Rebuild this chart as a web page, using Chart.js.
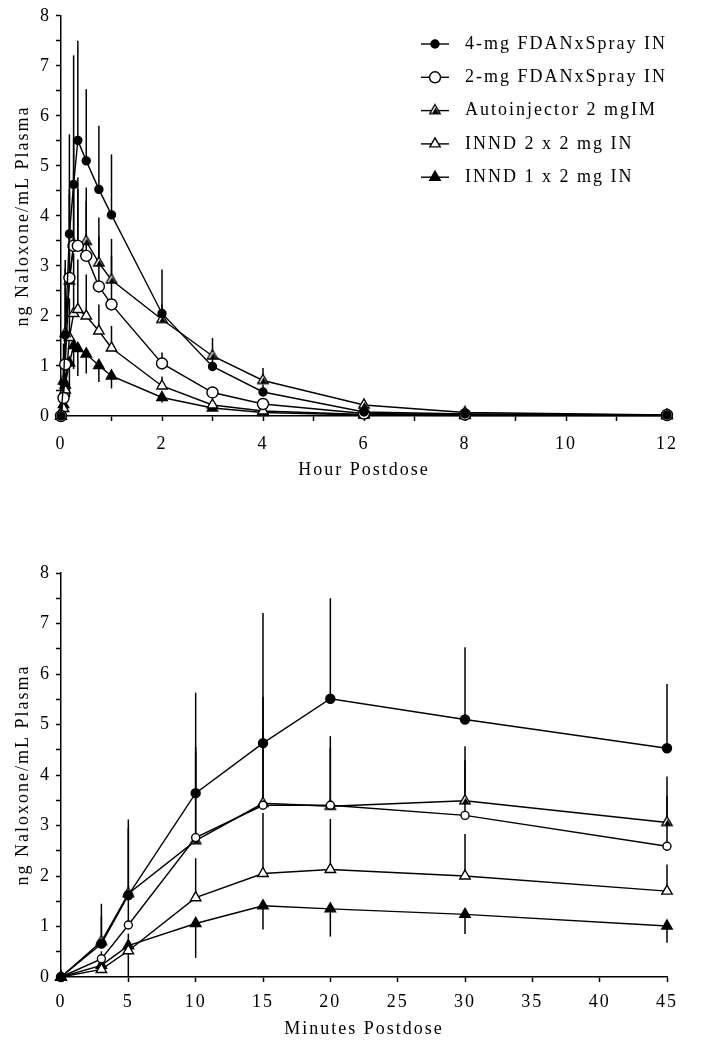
<!DOCTYPE html>
<html>
<head>
<meta charset="utf-8">
<script src="https://cdn.jsdelivr.net/npm/chart.js@4"></script>
<style>
  body { margin: 0; background: #fff; width: 703px; height: 1050px; position: relative; overflow: hidden; }
  .box { position: absolute; left: 0; width: 703px; }
</style>
</head>
<body>
<div class="box" style="top:0;height:500px"><canvas id="hours" width="703" height="500"></canvas></div>
<div class="box" style="top:520px;height:530px"><canvas id="minutes" width="703" height="530"></canvas></div>
<script>
// sampling times (minutes after dose); the hour panel uses all, the minute panel the first 8
const sampleMinutes = [0, 3, 5, 10, 15, 20, 30, 45, 60, 120, 180, 240, 360, 480, 720];

const seriesLabels = ['4-mg FDANxSpray IN', '2-mg FDANxSpray IN', 'Autoinjector 2 mgIM', 'INND 2 x 2 mg IN', 'INND 1 x 2 mg IN'];

// mean plasma naloxone, ng/mL
const mean4mg    = [0, 0.66, 1.62, 3.64, 4.63, 5.51, 5.10, 4.53, 4.02, 2.05, 0.99, 0.48, 0.08, 0.04, 0.02];
const mean2mg    = [0, 0.36, 1.03, 2.76, 3.40, 3.40, 3.20, 2.59, 2.23, 1.05, 0.47, 0.24, 0.05, 0.03, 0.02];
const meanAuto   = [0, 0.70, 1.65, 2.70, 3.44, 3.38, 3.49, 3.06, 2.72, 1.93, 1.20, 0.71, 0.22, 0.07, 0.02];
const meanInnd2  = [0, 0.15, 0.52, 1.57, 2.05, 2.13, 2.00, 1.70, 1.36, 0.60, 0.22, 0.10, 0.03, 0.02, 0.01];
const meanInnd1  = [0, 0.23, 0.62, 1.06, 1.41, 1.35, 1.24, 1.01, 0.80, 0.37, 0.16, 0.07, 0.02, 0.01, 0.01];

// standard deviations (drawn upward, except INND 1 x 2 mg drawn downward)
const sd4mg   = [0, 0.79, 1.50, 1.99, 2.58, 1.99, 1.43, 1.27, 1.21, 0.88, 0.30, 0.15, 0.04, 0.01, 0];
const sd2mg   = [0, 0.15, 0.50, 1.79, 2.15, 1.37, 1.09, 1.00, 0.97, 0.22, 0.12, 0.07, 0.02, 0.01, 0];
const sdAuto  = [0, 0.50, 1.30, 1.75, 1.46, 1.15, 1.08, 0.91, 0.82, 0.30, 0.36, 0.25, 0.08, 0.02, 0];
const sdInnd2 = [0, 0.12, 0.34, 0.78, 1.20, 1.00, 0.83, 0.53, 0.44, 0.19, 0.10, 0.05, 0.01, 0, 0];
const sdInnd1 = [0, 0.10, 0.62, 0.68, 0.47, 0.55, 0.39, 0.33, 0.25, 0.10, 0.05, 0.03, 0, 0, 0];

const means = [mean4mg, mean2mg, meanAuto, meanInnd2, meanInnd1];
const sds = [sd4mg, sd2mg, sdAuto, sdInnd2, sdInnd1];
const sdDirection = [1, 1, 1, 1, -1];

const yTitle = 'ng Naloxone/mL Plasma';
const serif = "'Liberation Serif', 'Times New Roman', serif";
const fontSize = 18;
const tracking = '2px';

// open triangle with a filled core, used for the autoinjector
function autoMarker(r) {
  const s = Math.ceil(2 * r + 4);
  const c = document.createElement('canvas');
  c.width = s; c.height = s;
  const g = c.getContext('2d');
  const cx = s / 2, cy = s / 2;
  const h = r * Math.sin(Math.PI / 3);
  g.beginPath();
  g.moveTo(cx, cy - r); g.lineTo(cx + h, cy + r / 2); g.lineTo(cx - h, cy + r / 2); g.closePath();
  g.fillStyle = '#fff'; g.fill();
  g.lineWidth = 1.4; g.strokeStyle = '#000'; g.stroke();
  g.beginPath();
  g.moveTo(cx + r * 0.08, cy - r * 0.5); g.lineTo(cx + h * 0.8, cy + r / 2); g.lineTo(cx - h * 0.55, cy + r / 2); g.closePath();
  g.fillStyle = '#000'; g.fill();
  return c;
}

function markerStyles(sz) {
  return [
    { pointStyle: 'circle', fill: '#000', radius: sz.dot },
    { pointStyle: 'circle', fill: '#fff', radius: sz.ring },
    { pointStyle: autoMarker(sz.tri), fill: '#000', radius: sz.tri },
    { pointStyle: 'triangle', fill: '#fff', radius: sz.tri },
    { pointStyle: 'triangle', fill: '#000', radius: sz.tri }
  ];
}

function buildDatasets(count, toX, sz) {
  const styles = markerStyles(sz);
  return seriesLabels.map((label, i) => ({
    label,
    data: means[i].slice(0, count).map((v, j) => ({ x: toX(sampleMinutes[j]), y: v })),
    sd: sds[i].slice(0, count),
    sdDir: sdDirection[i],
    borderColor: '#000',
    borderWidth: 1.4,
    pointStyle: styles[i].pointStyle,
    pointRadius: styles[i].radius,
    pointHoverRadius: styles[i].radius,
    pointBackgroundColor: styles[i].fill,
    pointBorderColor: '#000',
    pointBorderWidth: 1.4,
    tension: 0,
    clip: false
  }));
}

const errorBars = {
  id: 'errorBars',
  beforeDatasetsDraw(chart) {
    const { ctx, scales: { x, y } } = chart;
    ctx.save();
    ctx.strokeStyle = '#000';
    ctx.lineWidth = 1.5;
    chart.data.datasets.forEach(ds => {
      ds.data.forEach((p, j) => {
        const sd = ds.sd[j];
        if (!sd) return;
        const px = x.getPixelForValue(p.x);
        ctx.beginPath();
        ctx.moveTo(px, y.getPixelForValue(p.y));
        ctx.lineTo(px, y.getPixelForValue(p.y + ds.sdDir * sd));
        ctx.stroke();
      });
    });
    ctx.restore();
  }
};

const spacing = {
  id: 'spacing',
  beforeUpdate(chart) { chart.ctx.letterSpacing = tracking; },
  beforeDraw(chart) { chart.ctx.letterSpacing = tracking; }
};

const keyBox = {
  id: 'keyBox',
  afterDraw(chart, args, opts) {
    if (!opts.show) return;
    const ctx = chart.ctx;
    ctx.save();
    ctx.font = fontSize + 'px ' + serif;
    ctx.letterSpacing = tracking;
    ctx.textBaseline = 'middle';
    ctx.textAlign = 'left';
    chart.data.datasets.forEach((ds, i) => {
      const yy = opts.top + i * opts.gap;
      ctx.strokeStyle = '#000';
      ctx.lineWidth = 1.4;
      ctx.beginPath();
      ctx.moveTo(opts.lineStart, yy); ctx.lineTo(opts.lineEnd, yy);
      ctx.stroke();
      ctx.fillStyle = ds.pointBackgroundColor;
      Chart.helpers.drawPoint(ctx, { pointStyle: ds.pointStyle, radius: ds.pointRadius, rotation: 0, borderWidth: 1.4 },
        (opts.lineStart + opts.lineEnd) / 2, yy);
      ctx.fillStyle = '#000';
      ctx.fillText(ds.label, opts.textX, yy);
    });
    ctx.restore();
  }
};

function axisOptions(cfg) {
  const font = { family: serif, size: fontSize };
  return {
    x: {
      type: 'linear', min: 0, max: cfg.xMax,
      afterFit(s) { s.height = cfg.xHeight; },
      border: { color: '#000', width: 1.5 },
      grid: { drawOnChartArea: false, drawTicks: true, tickLength: 5, tickColor: '#000', tickWidth: 1.5 },
      ticks: {
        stepSize: cfg.xStep, autoSkip: false, maxRotation: 0, color: '#000', font, padding: cfg.xTickPad,
        callback: v => (v % cfg.xLabelEvery === 0 ? String(v) : '')
      },
      title: { display: true, text: cfg.xTitle, color: '#000', font, padding: { top: 0, bottom: cfg.xTitlePad } }
    },
    y: {
      type: 'linear', min: 0, max: 8,
      afterFit(s) { s.width = 61; },
      border: { color: '#000', width: 1.5 },
      grid: { drawOnChartArea: false, drawTicks: true, tickLength: 5, tickColor: '#000', tickWidth: 1.5 },
      ticks: {
        stepSize: 0.5, autoSkip: false, color: '#000', font, padding: 5,
        callback: v => (Number.isInteger(v) ? String(v) : '')
      },
      title: { display: true, text: yTitle, color: '#000', font, padding: { top: 12, bottom: 0 } }
    }
  };
}

new Chart(document.getElementById('hours'), {
  type: 'line',
  data: { datasets: buildDatasets(sampleMinutes.length, m => m / 60, { dot: 4, ring: 5.5, tri: 6 }) },
  options: {
    responsive: false,
    animation: false,
    layout: { padding: { top: 12, right: 36, left: 0, bottom: 0 } },
    scales: axisOptions({ xMax: 12, xStep: 1, xLabelEvery: 2, xTitle: 'Hour Postdose', xHeight: 84, xTickPad: 12, xTitlePad: 19 }),
    plugins: {
      legend: { display: false },
      tooltip: { enabled: false },
      keyBox: { show: true, top: 44, gap: 33.3, lineStart: 421, lineEnd: 449, textX: 465 }
    }
  },
  plugins: [spacing, errorBars, keyBox]
});

new Chart(document.getElementById('minutes'), {
  type: 'line',
  data: { datasets: buildDatasets(8, m => m, { dot: 4.5, ring: 4, tri: 6 }) },
  options: {
    responsive: false,
    animation: false,
    layout: { padding: { top: 53, right: 36, left: 0, bottom: 0 } },
    scales: axisOptions({ xMax: 45, xStep: 5, xLabelEvery: 5, xTitle: 'Minutes Postdose', xHeight: 73, xTickPad: 9, xTitlePad: 10 }),
    plugins: {
      legend: { display: false },
      tooltip: { enabled: false },
      keyBox: { show: false }
    }
  },
  plugins: [spacing, errorBars, keyBox]
});
</script>
</body>
</html>
